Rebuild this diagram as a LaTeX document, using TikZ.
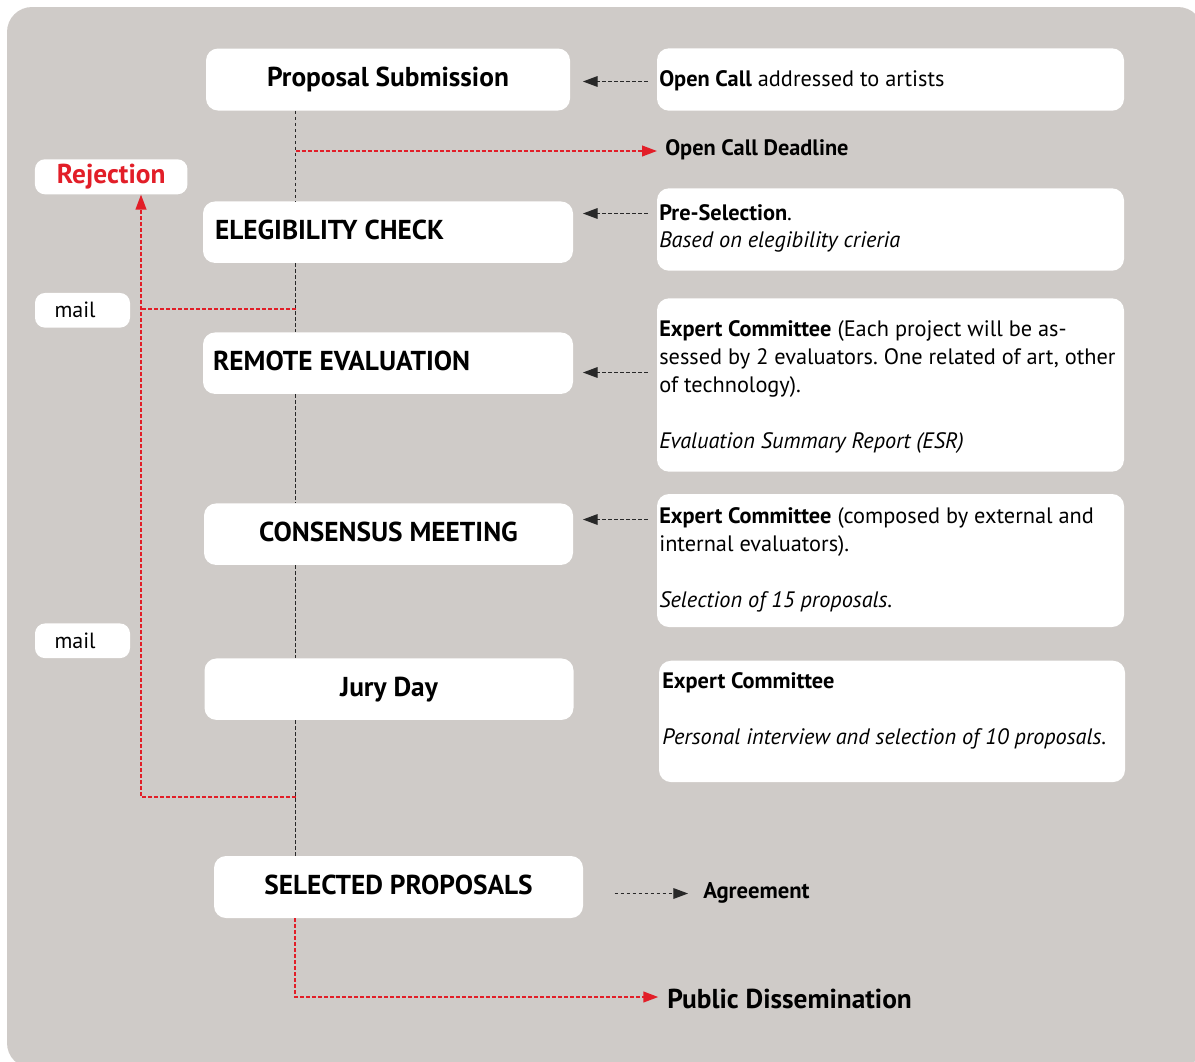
\documentclass[tikz,border=0pt]{standalone}
\usepackage{fontspec}
\setmainfont{PT Sans}
\usetikzlibrary{arrows.meta}
\definecolor{bggray}{RGB}{207,203,200}
\definecolor{rjred}{RGB}{226,30,40}
\definecolor{dashgray}{RGB}{40,40,40}
\frenchspacing
\begin{document}
\begin{tikzpicture}[x=0.75pt,y=-0.75pt,
  wbox/.style={fill=white, rounded corners=9pt, inner sep=0pt, draw=none},
  ttl/.style={font=\fontsize{20.5pt}{24pt}\selectfont\bfseries, text height=14.25pt, text depth=3.75pt},
  rtext/.style={anchor=base west, inner sep=0pt, font=\fontsize{16.75pt}{21pt}\selectfont},
  lbl/.style={anchor=base west, inner sep=0pt, font=\fontsize{16.75pt}{19pt}\selectfont\bfseries},
  spinel/.style={draw=dashgray, line width=0.85pt, dash pattern=on 2.6pt off 1.9pt},
  redl/.style={draw=rjred, line width=1.5pt, dash pattern=on 3pt off 1.5pt},
  blkarrow/.style={spinel, -{Triangle[length=11pt,width=8pt]}},
  redarrow/.style={redl, -{Triangle[length=11.25pt,width=8pt]}}
]
\useasboundingbox (0,0) rectangle (1195,1061);
\begin{scope}
\clip (0,0) rectangle (1195,1061);
\fill[bggray, rounded corners=18.75pt] (7,7) rectangle (1203,1068);
\end{scope}

% left column boxes
\node[wbox, ttl, minimum width=273pt, minimum height=46.5pt] (ps) at (388,79.5) {Proposal Submission};
\node[wbox, ttl, minimum width=277.5pt, minimum height=46.1pt, text width=259.5pt, align=flush left] (ec) at (388,232.2) {ELEGIBILITY CHECK};
\node[wbox, ttl, minimum width=277.5pt, minimum height=46.1pt, text width=262.5pt, align=flush left] (re) at (388,363.2) {REMOTE EVALUATION};
\node[wbox, ttl, minimum width=276.75pt, minimum height=46.1pt] (cm) at (388.5,534.2) {CONSENSUS MEETING};
\node[wbox, ttl, minimum width=276.75pt, minimum height=46.1pt] (jd) at (389,689.2) {Jury Day};
\node[wbox, ttl, minimum width=276.75pt, minimum height=46.5pt] (sp) at (398.5,887) {SELECTED PROPOSALS};

% rejection and mail
\node[wbox, minimum width=114.4pt, minimum height=26.25pt, font=\fontsize{20.5pt}{23pt}\selectfont\bfseries, text=rjred, rounded corners=7.5pt] (rej) at (111.2,176.8) {Rejection};
\node[wbox, minimum width=71.25pt, minimum height=26pt, font=\fontsize{16.5pt}{19pt}\selectfont, rounded corners=7.5pt, text width=42pt, align=flush left] (m1) at (82.5,310.3) {mail};
\node[wbox, minimum width=71.25pt, minimum height=26pt, font=\fontsize{16.5pt}{19pt}\selectfont, rounded corners=7.5pt, text width=42pt, align=flush left] (m2) at (82.5,640.8) {mail};

% right column boxes
\node[wbox, minimum width=350.25pt, minimum height=46.8pt] (oc) at (890.5,79.5) {};
\node[wbox, minimum width=350.25pt, minimum height=61.8pt] (psel) at (890.5,229.5) {};
\node[wbox, minimum width=350.25pt, minimum height=130pt] (ex1) at (890.5,385) {};
\node[wbox, minimum width=350.25pt, minimum height=99.75pt] (ex2) at (890.5,560.5) {};
\node[wbox, minimum width=349.5pt, minimum height=91pt] (ex3) at (892,721.4) {};

% right column texts
\node[rtext] (oct) at (659,86.7) {\textbf{Open Call} addressed to artists};
\node[rtext] (pst1) at (659,220) {\textbf{Pre-Selection}.};
\node[rtext] (pst2) at (659,247.7) {\itshape Based on elegibility crieria};
\node[rtext] (e1a) at (659,336.7) {\textbf{Expert Committee} (Each project will be as-};
\node[rtext] (e1b) at (659,364.7) {sessed by 2 evaluators. One related of art, other};
\node[rtext] (e1c) at (659,392.7) {of technology).};
\node[rtext] (e1d) at (659,448.7) {\itshape Evaluation Summary Report (ESR)};
\node[rtext] (e2a) at (659,523.3) {\textbf{Expert Committee} (composed by external and};
\node[rtext] (e2b) at (659,551.3) {internal evaluators).};
\node[rtext] (e2c) at (659,607.3) {\itshape Selection of 15 proposals.};
\node[rtext] (e3a) at (662,688.3) {\textbf{Expert Committee}};
\node[rtext] (e3b) at (662,744.3) {\itshape Personal interview and selection of 10 proposals.};

% free labels
\node[lbl] (dl) at (665,155) {Open Call Deadline};
\node[lbl, font=\fontsize{17pt}{19pt}\selectfont\bfseries] (ag) at (703,898.3) {Agreement};
\node[lbl, font=\fontsize{20.5pt}{24pt}\selectfont\bfseries] (pd) at (667,1008.3) {Public Dissemination};

% helper coordinates
\coordinate (spx) at (295.5,0);
\coordinate (rx) at (141,0);
\coordinate (b1) at (295.5,151);
\coordinate (j1) at (295.5,309);
\coordinate (j2) at (295.5,797);
\coordinate (c4) at (295,997);
\coordinate (ya) at (0,81.5);
\coordinate (yb) at (0,213.5);
\coordinate (yc) at (0,372.5);
\coordinate (yd) at (0,519.5);
\coordinate (ye) at (0,893.5);

% spine
\draw[spinel] (ps.south -| spx) -- (ec.north -| spx);
\draw[spinel] (ec.south -| spx) -- (re.north -| spx);
\draw[spinel] (re.south -| spx) -- (cm.north -| spx);
\draw[spinel] (cm.south -| spx) -- (jd.north -| spx);
\draw[spinel] (jd.south -| spx) -- (sp.north -| spx);

% red branches
\draw[redarrow, shorten >=6pt] (b1) -- (b1 -| dl.west);
\draw[redl] (j1) -- (j1 -| rx);
\draw[redarrow] (j2) -- (j2 -| rx) -- (rej.south -| rx);
\draw[redarrow, shorten >=6.5pt] (sp.south -| c4) -- (c4) -- (c4 -| pd.west);

% black input arrows
\draw[blkarrow, shorten <=6.75pt, shorten >=9.5pt] (oc.west |- ya) -- (ps.east |- ya);
\draw[blkarrow, shorten <=6.75pt, shorten >=7.25pt] (psel.west |- yb) -- (ec.east |- yb);
\draw[blkarrow, shorten <=6.75pt, shorten >=7.25pt] (ex1.west |- yc) -- (re.east |- yc);
\draw[blkarrow, shorten <=6.75pt, shorten >=7.25pt] (ex2.west |- yd) -- (cm.east |- yd);
\draw[blkarrow, shorten <=23.5pt, shorten >=11.25pt] (sp.east |- ye) -- (ag.west |- ye);
\end{tikzpicture}
\end{document}
